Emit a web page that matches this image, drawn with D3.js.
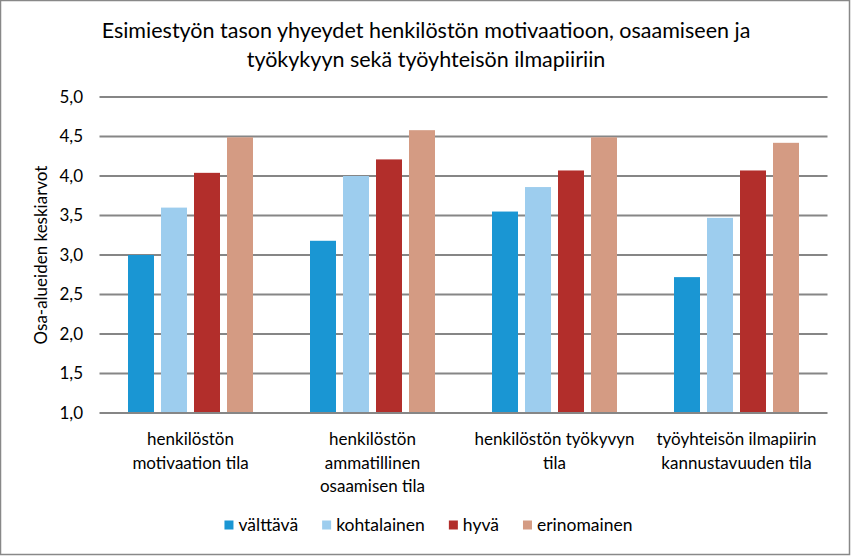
<!DOCTYPE html>
<html>
<head>
<meta charset="utf-8">
<script src="https://cdn.jsdelivr.net/npm/d3@7"></script>
<style>
	body { margin: 0; background: #fff; }
	text { font-family: Lato, "Open Sans", sans-serif; fill: #000; }
</style>
</head>
<body>
<svg id="chart" width="851" height="556"></svg>
<script>
const titleLines = [
	"Esimiestyön tason yhyeydet henkilöstön motivaatioon, osaamiseen ja",
	"työkykyyn sekä työyhteisön ilmapiiriin"
]
const yLabel = "Osa-alueiden keskiarvot"

// categories, each split into the lines shown under the axis
const categories = [
	"henkilöstön motivaation tila",
	"henkilöstön ammatillinen osaamisen tila",
	"henkilöstön työkyvyn tila",
	"työyhteisön ilmapiirin kannustavuuden tila"
]
const categoryLines = [
	["henkilöstön", "motivaation tila"],
	["henkilöstön", "ammatillinen", "osaamisen tila"],
	["henkilöstön työkyvyn", "tila"],
	["työyhteisön ilmapiirin", "kannustavuuden tila"]
]

const series = ["välttävä", "kohtalainen", "hyvä", "erinomainen"]
const valttava = [3.0, 3.18, 3.55, 2.72]
const kohtalainen = [3.6, 4.0, 3.86, 3.47]
const hyva = [4.04, 4.21, 4.07, 4.07]
const erinomainen = [4.49, 4.58, 4.49, 4.42]
const seriesValues = [valttava, kohtalainen, hyva, erinomainen]

const yTicks = [1.0, 1.5, 2.0, 2.5, 3.0, 3.5, 4.0, 4.5, 5.0]

const colours = {
	valttava: "#1a96d3",
	kohtalainen: "#9dcdee",
	hyva: "#b22e2b",
	erinomainen: "#d49b83",
	grid: "#868686"
}
const seriesColours = [colours.valttava, colours.kohtalainen, colours.hyva, colours.erinomainen]

const svg = d3.select("#chart")

// outer chart border
svg.append("rect")
	.attr("x", 0.5).attr("y", 0.5)
	.attr("width", 849).attr("height", 554)
	.attr("fill", "#fff")
	.attr("stroke", "#888")
	.attr("stroke-width", 1.5)

const plot = { left: 99.5, right: 827.5, top: 97, bottom: 413 }

const y = d3.scaleLinear().domain([1, 5]).range([plot.bottom, plot.top])
const x0 = d3.scaleBand().domain(categories).range([plot.left, plot.right])
const x1 = d3.scaleBand().domain(series).range([28.5, 153.5]).paddingInner(0.2121)

// title
svg.append("g")
	.selectAll("text")
	.data(titleLines)
	.enter()
	.append("text")
	.attr("x", 426)
	.attr("y", (d, i) => 38 + i * 29)
	.attr("text-anchor", "middle")
	.style("font-size", "21.5px")
	.text(d => d)

// gridlines (the bottom one works as the axis line)
svg.append("g")
	.selectAll("line")
	.data(yTicks)
	.enter()
	.append("line")
	.attr("x1", plot.left)
	.attr("x2", plot.right)
	.attr("y1", d => y(d))
	.attr("y2", d => y(d))
	.attr("stroke", colours.grid)
	.attr("stroke-width", 2)

// y tick labels
svg.append("g")
	.selectAll("text")
	.data(yTicks)
	.enter()
	.append("text")
	.attr("x", 83)
	.attr("y", d => y(d))
	.attr("dy", "0.35em")
	.attr("text-anchor", "end")
	.style("font-size", "17px")
	.text(d => d3.format(".1f")(d).replace(".", ","))

svg.append("text")
	.attr("transform", `translate(47,${(plot.top + plot.bottom) / 2}) rotate(-90)`)
	.attr("text-anchor", "middle")
	.style("font-size", "17px")
	.text(yLabel)

// bars
const group = svg.append("g")
	.selectAll(".group")
	.data(categories)
	.enter()
	.append("g")
	.attr("class", "group")
	.attr("transform", d => `translate(${x0(d)},0)`)

group.selectAll("rect")
	.data((d, i) => series.map((s, j) => ({ s, j, v: seriesValues[j][i] })))
	.enter()
	.append("rect")
	.attr("x", d => x1(d.s))
	.attr("width", x1.bandwidth())
	.attr("y", d => y(d.v))
	.attr("height", d => y(1) - y(d.v) - 1)
	.attr("fill", d => seriesColours[d.j])

// category labels
svg.append("g")
	.selectAll("text")
	.data(categories)
	.enter()
	.append("text")
	.attr("x", d => x0(d) + x0.bandwidth() / 2)
	.attr("y", 445)
	.attr("text-anchor", "middle")
	.style("font-size", "17px")
	.selectAll("tspan")
	.data((d, i) => categoryLines[i])
	.enter()
	.append("tspan")
	.attr("x", function () { return d3.select(this.parentNode).attr("x") })
	.attr("dy", (d, i) => (i === 0 ? 0 : 23.5))
	.text(d => d)

// legend, laid out from the measured label widths and centred
const legend = svg.append("g")
const items = legend.selectAll("g")
	.data(series)
	.enter()
	.append("g")

items.append("rect")
	.attr("y", -4.5)
	.attr("width", 9)
	.attr("height", 9)
	.attr("fill", (d, i) => seriesColours[i])

items.append("text")
	.attr("x", 14)
	.attr("dy", "0.35em")
	.style("font-size", "17.5px")
	.text(d => d)

let cursor = 0
items.each(function () {
	const w = d3.select(this).select("text").node().getComputedTextLength()
	d3.select(this).attr("transform", `translate(${cursor},0)`)
	cursor += 14 + w + 24
})
cursor -= 24
legend.attr("transform", `translate(${428.5 - cursor / 2},525)`)
</script>
</body>
</html>
